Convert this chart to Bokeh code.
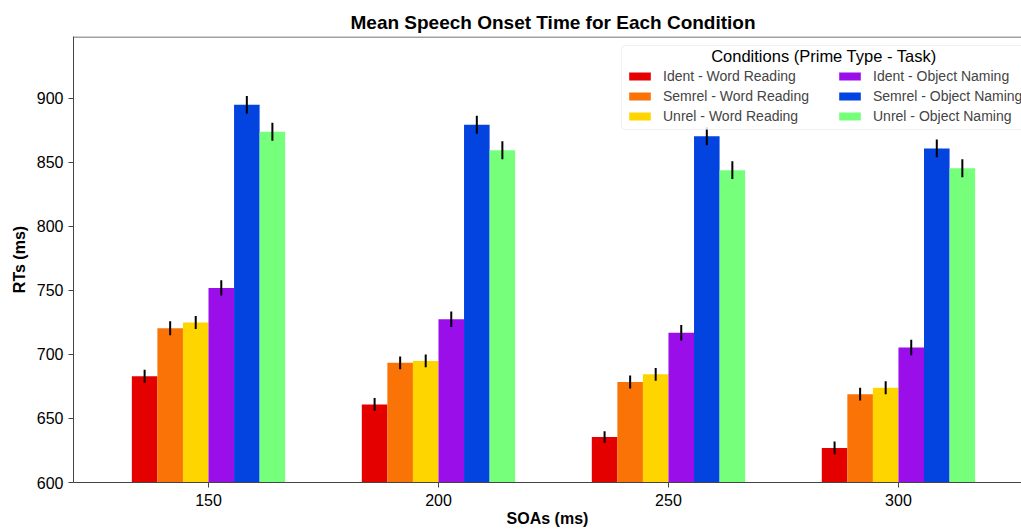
from bokeh.plotting import figure
from bokeh.models import (Range1d, FixedTicker, Legend, LegendItem, ColumnDataSource,
                          Span, BoxAnnotation, Label)
from bokeh.embed import file_html
from bokeh.resources import INLINE

soas = ["150", "200", "250", "300"]
conditions = ["Ident - Word Reading", "Semrel - Word Reading", "Unrel - Word Reading",
              "Ident - Object Naming", "Semrel - Object Naming", "Unrel - Object Naming"]
colors = ["#e50000", "#f97306", "#ffd500", "#9a0eea", "#0343df", "#76ff7b"]

ident_wr = [683, 661, 635.5, 627]
semrel_wr = [720.5, 693.5, 678.5, 669]
unrel_wr = [725, 695, 684.5, 674]
ident_on = [752, 727.5, 717, 705.5]
semrel_on = [895, 879.5, 870.5, 861]
unrel_on = [874, 859.5, 844, 845.5]

err_ident_wr = [5, 5, 4.5, 5]
err_semrel_wr = [5.5, 5, 5, 5]
err_unrel_wr = [5, 5, 5, 5]
err_ident_on = [6, 6, 6, 6]
err_semrel_on = [7, 7, 7, 7]
err_unrel_on = [7, 7, 7, 7]

series = [ident_wr, semrel_wr, unrel_wr, ident_on, semrel_on, unrel_on]
errors = [err_ident_wr, err_semrel_wr, err_unrel_wr, err_ident_on, err_semrel_on, err_unrel_on]

FONT = "Liberation Sans"
bar_w = 1 / 9
X0, X1 = -0.587, 3.535
Y0, Y1 = 600, 948.4

p = figure(width=1021, height=532, output_backend="svg", toolbar_location=None,
           x_range=Range1d(X0, X1), y_range=Range1d(Y0, Y1),
           min_border_left=73, min_border_right=0, min_border_top=36, min_border_bottom=50)
p.outline_line_color = None
p.grid.visible = False
p.background_fill_color = "white"

items = []
for k, (vals, errs, col, name) in enumerate(zip(series, errors, colors, conditions)):
    xs = [i + (k - 2.5) * bar_w for i in range(len(soas))]
    src = ColumnDataSource(dict(x=xs, top=vals,
                                lo=[v - e for v, e in zip(vals, errs)],
                                hi=[v + e for v, e in zip(vals, errs)]))
    r = p.vbar(x="x", top="top", bottom=Y0, width=bar_w, source=src,
               fill_color=col, line_color=None)
    p.segment(x0="x", x1="x", y0="lo", y1="hi", source=src, line_color="black", line_width=2)
    items.append(LegendItem(label=name, renderers=[r]))

# axes styling
for ax in [p.xaxis[0], p.yaxis[0]]:
    ax.axis_line_color = "#444444"
    ax.major_tick_line_color = "#444444"
    ax.major_tick_in = 0
    ax.major_tick_out = 5
    ax.minor_tick_line_color = None
    ax.major_label_text_font = FONT
    ax.major_label_text_font_size = "16px"
    ax.major_label_text_color = "black"
    ax.axis_label_text_font = FONT
    ax.axis_label_text_font_style = "bold"
    ax.axis_label_text_font_size = "16px"
    ax.axis_label_text_color = "black"

p.xaxis[0].ticker = FixedTicker(ticks=list(range(len(soas))))
p.xaxis[0].major_label_overrides = {i: s for i, s in enumerate(soas)}
p.xaxis[0].major_label_standoff = 6
p.xaxis[0].axis_label = "SOAs (ms)"
p.xaxis[0].axis_label_standoff = 1
p.yaxis[0].ticker = FixedTicker(ticks=[600, 650, 700, 750, 800, 850, 900])
p.yaxis[0].axis_label = "RTs (ms)"
p.yaxis[0].axis_label_standoff = 6

# top spine
p.add_layout(Span(location=Y1 - 0.4, dimension="width", line_color="#444444", line_width=1))

p.title.text = "Mean Speech Onset Time for Each Condition"
p.title.align = "left"
p.title.offset = 277
p.title.standoff = 7
p.title.text_font = FONT
p.title.text_font_size = "19px"
p.title.text_font_style = "bold"
p.title.text_color = "black"

# helpers: pixel positions -> data space for annotations
def dx(px):
    return X0 + (px - 73) / 230.0

def dy(py):
    return Y1 - (py - 36) / 1.28

box = BoxAnnotation(left=dx(621), right=dx(1040), top=dy(45), bottom=dy(129),
                    fill_color="white", fill_alpha=0.85,
                    line_color="#cccccc", line_width=1, border_radius=4)
p.add_layout(box)

legend = Legend(items=items, ncols=2, location=(626 - 73, 482 - 126),
                label_text_font=FONT, label_text_font_size="14px",
                glyph_width=27, glyph_height=10, label_height=20, label_width=173,
                label_standoff=10, spacing=0, padding=0, margin=0,
                border_line_color=None, background_fill_color=None)
p.add_layout(legend, "center")

p.add_layout(Label(x=dx(823.5), y=dy(55), text="Conditions (Prime Type - Task)",
                   text_align="center", text_baseline="middle",
                   text_font=FONT, text_font_size="16.5px", text_color="black"))

open("out.html", "w").write(file_html(p, INLINE))
